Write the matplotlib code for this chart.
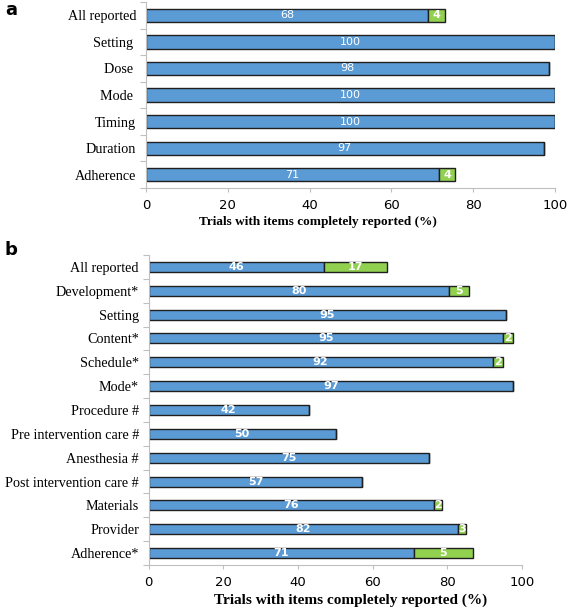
import matplotlib.pyplot as plt
import numpy as np

# PAINEL A - dados
cat_a = ['All reported', 'Setting ', 'Dose ', 'Mode ', 'Timing', 'Duration', 'Adherence']
azul_a = [69, 100, 98.6, 100, 100, 97.2, 71.6]
verde_a = [4, 0, 0, 0, 0, 0, 4]
rot_azul_a = ['68', '100', '98', '100', '100', '97', '71']
rot_verde_a = ['4', '', '', '', '', '', '4']

# PAINEL B - dados
cat_b = ['All reported', 'Development*', 'Setting', 'Content*', 'Schedule*', 'Mode*',
         'Procedure #', 'Pre intervention care #', 'Anesthesia #', 'Post intervention care #',
         'Materials', 'Provider', 'Adherence*']
azul_b = [47, 80.6, 95.8, 95.1, 92.2, 97.6, 42.9, 50.1, 75.1, 57.3, 76.5, 83, 71]
verde_b = [17, 5.4, 0, 2.5, 2.7, 0, 0, 0, 0, 0, 2.2, 2.1, 15.9]
rot_azul_b = ['46', '80', '95', '95', '92', '97', '42', '50', '75', '57', '76', '82', '71']
rot_verde_b = ['17', '5', '', '2', '2', '', '', '', '', '', '2', '3', '5']

AZUL = '#5b9bd5'
VERDE = '#92d050'
BORDA = '#1f1f1f'
CINZA = '#bfbfbf'

W, H = 567, 610
fig = plt.figure(figsize=(W / 100, H / 100), dpi=100)


def painel(ax, cats, azul, verde, rot_azul, rot_verde, altura, fs_lab, fs_x, bold_rot, xlab_pos):
    n = len(cats)
    y = np.arange(n)
    ax.barh(y, azul, height=altura, color=AZUL, edgecolor=BORDA, linewidth=1.0)
    ax.barh(y, verde, left=azul, height=altura, color=VERDE, edgecolor=BORDA, linewidth=1.0)
    peso = 'bold' if bold_rot else 'normal'
    for i in range(n):
        ax.text(azul[i] / 2, y[i], rot_azul[i], color='white', ha='center', va='center',
                fontsize=8, fontweight=peso)
        if rot_verde[i]:
            ax.text(azul[i] + verde[i] / 2, y[i], rot_verde[i], color='white', ha='center',
                    va='center', fontsize=8, fontweight='bold')
    ax.set_xlim(0, 100)
    ax.set_ylim(n - 0.5, -0.5)
    ax.set_xticks([0, 20, 40, 60, 80, 100])
    ax.tick_params(axis='x', labelsize=9.5, length=3, color=CINZA, pad=5)
    # ticks do eixo y entre categorias, estilo Excel
    ax.set_yticks(np.arange(-0.5, n, 1.0))
    ax.set_yticklabels([])
    ax.set_yticks(y, minor=True)
    ax.set_yticklabels(cats, minor=True, fontsize=fs_lab, family='Liberation Serif')
    ax.tick_params(axis='y', which='major', length=4, color=CINZA)
    ax.tick_params(axis='y', which='minor', length=0, pad=7)
    for s in ['top', 'right']:
        ax.spines[s].set_visible(False)
    for s in ['left', 'bottom']:
        ax.spines[s].set_color(CINZA)
    ax.set_xlabel('Trials with items completely reported (%)', fontsize=fs_x,
                  fontweight='bold', family='Liberation Serif')
    ax.xaxis.set_label_coords(xlab_pos[0], xlab_pos[1])


ax_a = fig.add_axes([146 / W, 1 - 188 / H, (555 - 146) / W, 186 / H])
painel(ax_a, cat_a, azul_a, verde_a, rot_azul_a, rot_verde_a, 0.5, 10.2, 9.5, False,
       (0.42, -28 / 186))

ax_b = fig.add_axes([148.7 / W, 1 - 565 / H, (521.7 - 148.7) / W, 310 / H])
painel(ax_b, cat_b, azul_b, verde_b, rot_azul_b, rot_verde_b, 0.42, 10.2, 11, True,
       (0.54, -29 / 310))

fig.text(5 / W, 1 - 10 / H, 'a', fontsize=13, fontweight='bold', va='center')
fig.text(5 / W, 1 - 250 / H, 'b', fontsize=13, fontweight='bold', va='center')

fig.savefig('out.png', dpi=100)
